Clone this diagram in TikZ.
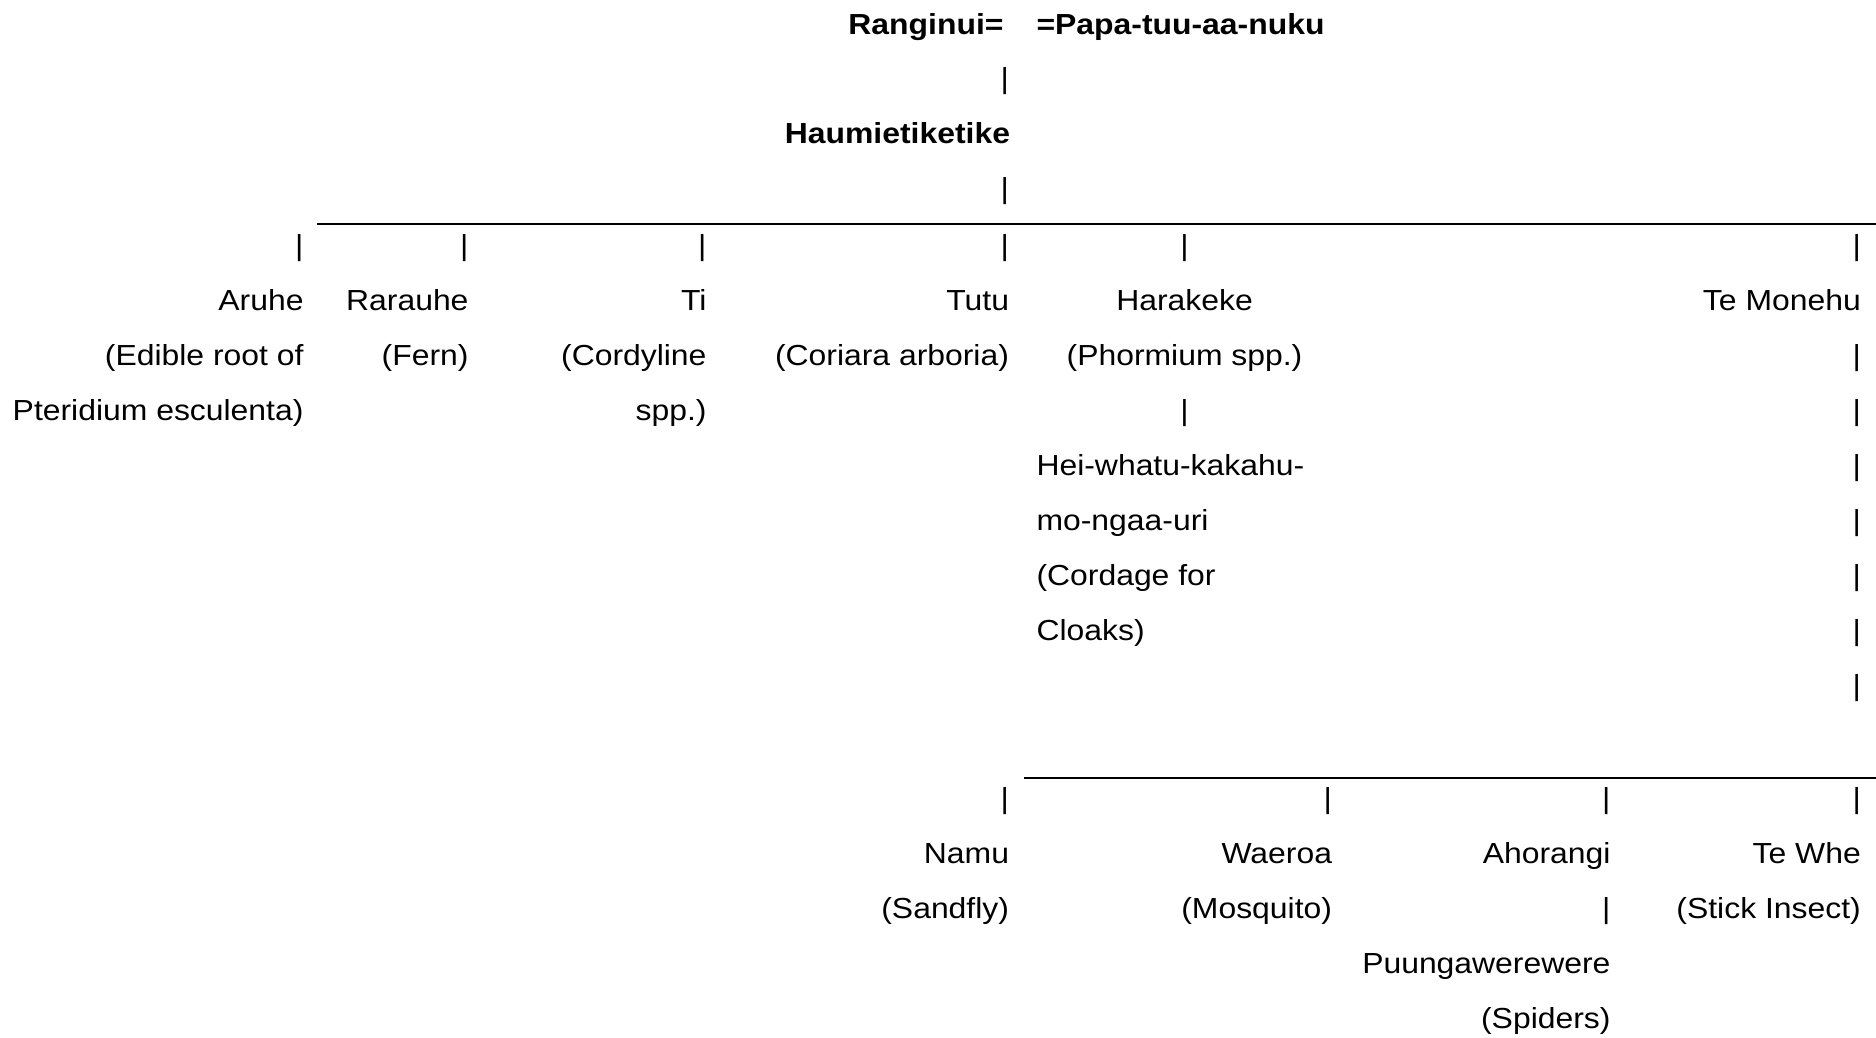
\documentclass[tikz,border=0pt]{standalone}
\usepackage{fontspec}
\setmainfont{Liberation Sans}[FakeStretch=1.1]
\begin{document}
\begin{tikzpicture}[x=1pt,y=-1pt,
  txt/.style={inner sep=0pt, outer sep=0pt, font=\fontsize{29}{35}\selectfont},
  re/.style={txt, anchor=base east},
  le/.style={txt, anchor=base west},
  ce/.style={txt, anchor=base},
  hd/.style={font=\fontsize{29}{35}\selectfont\bfseries},
  rule/.style={line width=2pt}]
\useasboundingbox (0,0) rectangle (1876,1037);

% column positions (right edges) and row baselines
\def\cA{303.5}\def\cB{468.5}\def\cC{706.5}\def\cD{1009}
\def\cE{1184.5}\def\cF{1860.8}\def\cG{1332}\def\cH{1610.5}\def\cL{1036.5}

% parents
\node[re, hd] (rangi) at (1003.5,34) {Ranginui=};
\node[le, hd] (papa) at (\cL,34) {=Papa-tuu-aa-nuku};
\node[re] (barP) at (\cD,88) {|};
\node[re, hd] (haumia) at (1010,143.5) {Haumietiketike};
\node[re] (barH) at (\cD,198) {|};

% first sibling rule
\coordinate (ruleAw) at (317,224);
\coordinate (ruleAe) at (1876,224);
\draw[rule] (ruleAw) -- (ruleAe);

% drop bars to the children
\node[re] (barA) at (\cA,255.7) {|};
\node[re] (barB) at (\cB,255.7) {|};
\node[re] (barC) at (\cC,255.7) {|};
\node[re] (barD) at (\cD,255.7) {|};
\node[ce] (barE) at (\cE,255.7) {|};
\node[re] (barF) at (\cF,255.7) {|};

% children of Haumietiketike
\node[re] (aruhe)  at (\cA,310.7) {Aruhe};
\node[re] (aruhe2) at (\cA,365.7) {(Edible root of};
\node[re] (aruhe3) at (\cA,420.7) {Pteridium esculenta)};

\node[re] (rarauhe)  at (\cB,310.7) {Rarauhe};
\node[re] (rarauhe2) at (\cB,365.7) {(Fern)};

\node[re] (ti)  at (\cC,310.7) {Ti};
\node[re] (ti2) at (\cC,365.7) {(Cordyline};
\node[re] (ti3) at (\cC,420.7) {spp.)};

\node[re] (tutu)  at (\cD,310.7) {Tutu};
\node[re] (tutu2) at (\cD,365.7) {(Coriara arboria)};

\node[ce] (harakeke)  at (\cE,310.7) {Harakeke};
\node[ce] (harakeke2) at (\cE,365.7) {(Phormium spp.)};
\node[ce] (barE2) at (\cE,420.7) {|};
\node[le] (hei)  at (\cL,475.7) {Hei-whatu-kakahu-};
\node[le] (hei2) at (\cL,530.7) {mo-ngaa-uri};
\node[le] (hei3) at (\cL,585.7) {(Cordage for};
\node[le] (hei4) at (\cL,640.7) {Cloaks)};

\node[re] (monehu) at (\cF,310.7) {Te Monehu};
\foreach \i/\y in {1/365.7,2/420.7,3/475.7,4/530.7,5/585.7,6/640.7,7/695.7}
  \node[re] (barM\i) at (\cF,\y) {|};

% second sibling rule
\coordinate (ruleBw) at (1024,778);
\coordinate (ruleBe) at (1876,778);
\draw[rule] (ruleBw) -- (ruleBe);

\node[re] (barN) at (\cD,808.2) {|};
\node[re] (barW) at (\cG,808.2) {|};
\node[re] (barO) at (\cH,808.2) {|};
\node[re] (barT) at (\cF,808.2) {|};

% children of Te Monehu
\node[re] (namu)  at (\cD,863.2) {Namu};
\node[re] (namu2) at (\cD,918.2) {(Sandfly)};

\node[re] (waeroa)  at (\cG,863.2) {Waeroa};
\node[re] (waeroa2) at (\cG,918.2) {(Mosquito)};

\node[re] (ahorangi) at (\cH,863.2) {Ahorangi};
\node[re] (barO2)    at (\cH,918.2) {|};
\node[re] (puunga)   at (\cH,973.2) {Puungawerewere};
\node[re] (puunga2)  at (\cH,1028.2) {(Spiders)};

\node[re] (tewhe)  at (\cF,863.2) {Te Whe};
\node[re] (tewhe2) at (\cF,918.2) {(Stick Insect)};
\end{tikzpicture}
\end{document}
